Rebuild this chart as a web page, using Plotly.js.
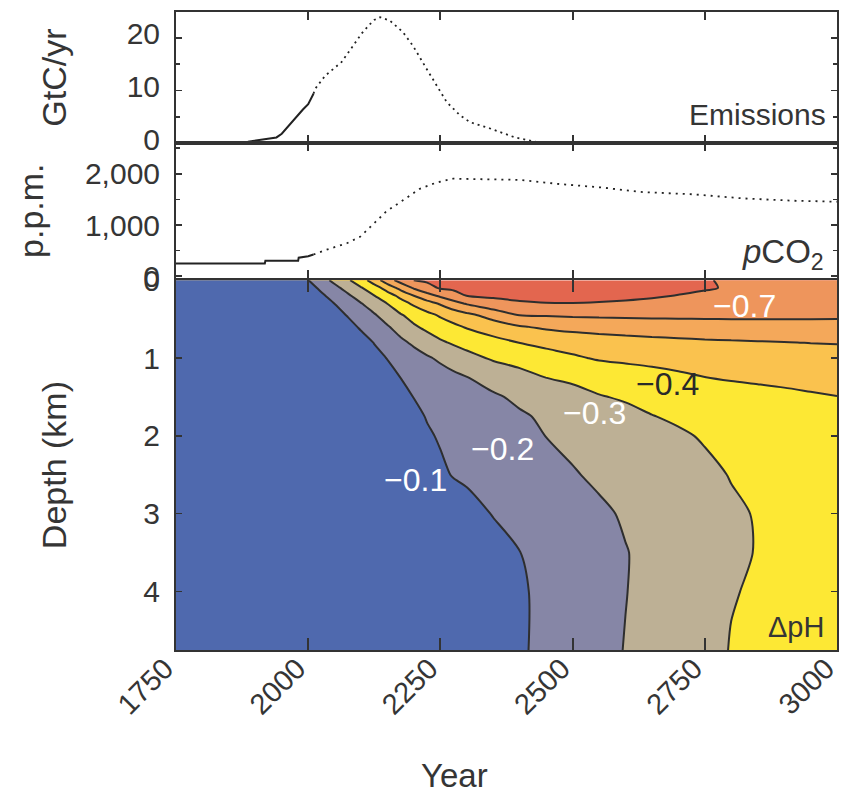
<!DOCTYPE html>
<html>
<head>
<meta charset="utf-8">
<script src="https://cdn.plot.ly/plotly-3.0.1.min.js"></script>
<style>html,body{margin:0;padding:0;background:#fff;}#chart{width:843px;height:796px;}</style>
</head>
<body>
<div id="chart"></div>
<script>
// ---------- Emissions (GtC/yr) ----------
const emisHistYear = [1886, 1900, 1920, 1940, 1950, 1960, 1970, 1980, 1990, 2000, 2010];
const emisHistVal  = [0.3, 0.5, 0.9, 1.1, 1.8, 3.0, 4.2, 5.4, 6.4, 7.4, 9.4];
const emisFutYear  = [2010, 2013, 2032, 2050, 2063, 2085, 2101, 2115, 2125, 2136, 2154, 2179, 2198, 2224, 2243, 2262, 2287, 2306, 2344, 2391, 2438, 2460];
const emisFutVal   = [9.4, 10.3, 12.8, 14.3, 15.4, 18.5, 20.8, 22.4, 23.4, 23.9, 23.3, 21.1, 18.5, 14.1, 11.0, 7.8, 5.3, 4.0, 2.8, 1.1, 0.1, 0];

// ---------- Atmospheric pCO2 (p.p.m.) ----------
const co2HistYear = [1750, 1918, 1919, 1981, 1982, 2000, 2010];
const co2HistVal  = [250, 250, 300, 300, 362, 390, 424];
const co2FutYear  = [2010, 2035, 2073, 2098, 2117, 2148, 2180, 2211, 2243, 2274, 2300, 2400, 2476, 2551, 2633, 2728, 2822, 2917, 3000];
const co2FutVal   = [424, 518, 643, 769, 957, 1268, 1488, 1707, 1831, 1906, 1900, 1882, 1800, 1737, 1643, 1600, 1520, 1475, 1455];

// ---------- Ocean delta pH (rows: depth, columns: year) ----------
const years  = [1750, 1900, 2000, 2025, 2050, 2075, 2100, 2125, 2150, 2175, 2200, 2225, 2250, 2275, 2300, 2350, 2400, 2450, 2500, 2550, 2600, 2650, 2700, 2750, 2800, 2850, 2900, 2950, 3000];
const depths = [0, 0.1, 0.2, 0.3, 0.45, 0.6, 0.8, 1.0, 1.25, 1.5, 1.75, 2.0, 2.5, 3.0, 3.5, 4.0, 4.75];
const dpH = [
  [0, -0.02, -0.098, -0.162, -0.225, -0.288, -0.357, -0.45, -0.56, -0.638, -0.701, -0.715, -0.73, -0.74, -0.745, -0.75, -0.755, -0.755, -0.75, -0.745, -0.74, -0.73, -0.72, -0.705, -0.69, -0.68, -0.67, -0.665, -0.66],
  [0, -0.01, -0.065, -0.118, -0.175, -0.233, -0.293, -0.359, -0.44, -0.533, -0.611, -0.667, -0.71, -0.72, -0.73, -0.74, -0.745, -0.745, -0.745, -0.74, -0.735, -0.725, -0.715, -0.705, -0.695, -0.685, -0.68, -0.675, -0.67],
  [0, -0.005, -0.05, -0.085, -0.135, -0.186, -0.241, -0.298, -0.36, -0.426, -0.501, -0.563, -0.617, -0.658, -0.702, -0.715, -0.72, -0.725, -0.725, -0.72, -0.715, -0.707, -0.698, -0.69, -0.685, -0.68, -0.675, -0.672, -0.67],
  [0, 0, -0.035, -0.06, -0.101, -0.149, -0.196, -0.249, -0.302, -0.362, -0.417, -0.463, -0.511, -0.567, -0.61, -0.665, -0.69, -0.697, -0.698, -0.695, -0.69, -0.685, -0.68, -0.675, -0.67, -0.667, -0.664, -0.662, -0.66],
  [0, 0, -0.02, -0.04, -0.07, -0.105, -0.148, -0.191, -0.241, -0.292, -0.334, -0.374, -0.411, -0.443, -0.475, -0.538, -0.601, -0.607, -0.612, -0.615, -0.617, -0.618, -0.618, -0.618, -0.618, -0.618, -0.617, -0.616, -0.615],
  [0, 0, -0.01, -0.025, -0.045, -0.075, -0.11, -0.151, -0.192, -0.239, -0.288, -0.322, -0.352, -0.381, -0.408, -0.45, -0.492, -0.515, -0.53, -0.54, -0.548, -0.554, -0.558, -0.562, -0.565, -0.567, -0.568, -0.569, -0.57],
  [0, 0, 0, -0.01, -0.025, -0.045, -0.07, -0.103, -0.142, -0.18, -0.217, -0.252, -0.287, -0.312, -0.331, -0.368, -0.402, -0.425, -0.44, -0.452, -0.462, -0.47, -0.478, -0.485, -0.49, -0.494, -0.498, -0.502, -0.505],
  [0, 0, 0, -0.005, -0.015, -0.03, -0.05, -0.075, -0.103, -0.132, -0.16, -0.189, -0.216, -0.244, -0.271, -0.312, -0.337, -0.362, -0.387, -0.41, -0.42, -0.428, -0.436, -0.442, -0.448, -0.452, -0.456, -0.459, -0.462],
  [0, 0, 0, 0, -0.008, -0.018, -0.03, -0.048, -0.07, -0.101, -0.12, -0.139, -0.159, -0.179, -0.198, -0.232, -0.266, -0.301, -0.317, -0.333, -0.35, -0.366, -0.383, -0.399, -0.41, -0.418, -0.425, -0.43, -0.435],
  [0, 0, 0, 0, -0.004, -0.01, -0.02, -0.032, -0.05, -0.075, -0.102, -0.117, -0.131, -0.145, -0.16, -0.189, -0.216, -0.242, -0.268, -0.295, -0.309, -0.32, -0.332, -0.343, -0.355, -0.366, -0.377, -0.389, -0.398],
  [0, 0, 0, 0, 0, -0.005, -0.012, -0.022, -0.035, -0.055, -0.08, -0.105, -0.117, -0.129, -0.141, -0.166, -0.19, -0.212, -0.234, -0.255, -0.277, -0.298, -0.31, -0.32, -0.328, -0.335, -0.342, -0.348, -0.353],
  [0, 0, 0, 0, 0, -0.003, -0.008, -0.015, -0.025, -0.04, -0.06, -0.09, -0.108, -0.12, -0.131, -0.154, -0.177, -0.201, -0.218, -0.236, -0.255, -0.273, -0.291, -0.306, -0.314, -0.32, -0.326, -0.33, -0.334],
  [0, 0, 0, 0, 0, -0.001, -0.004, -0.008, -0.014, -0.022, -0.035, -0.055, -0.085, -0.105, -0.115, -0.135, -0.155, -0.174, -0.194, -0.213, -0.231, -0.249, -0.267, -0.285, -0.303, -0.31, -0.315, -0.319, -0.322],
  [0, 0, 0, 0, 0, 0, -0.002, -0.004, -0.007, -0.011, -0.017, -0.025, -0.036, -0.05, -0.068, -0.104, -0.125, -0.145, -0.166, -0.187, -0.208, -0.228, -0.249, -0.27, -0.29, -0.304, -0.309, -0.313, -0.316],
  [0, 0, 0, 0, 0, 0, -0.001, -0.002, -0.004, -0.006, -0.01, -0.015, -0.022, -0.03, -0.04, -0.065, -0.099, -0.123, -0.148, -0.172, -0.197, -0.219, -0.242, -0.264, -0.287, -0.303, -0.307, -0.31, -0.313],
  [0, 0, 0, 0, 0, 0, -0.001, -0.001, -0.003, -0.005, -0.008, -0.012, -0.017, -0.024, -0.032, -0.05, -0.09, -0.119, -0.145, -0.172, -0.198, -0.223, -0.248, -0.272, -0.297, -0.306, -0.31, -0.313, -0.315],
  [0, 0, 0, 0, 0, 0, -0.001, -0.001, -0.002, -0.004, -0.007, -0.011, -0.016, -0.022, -0.03, -0.048, -0.09, -0.12, -0.147, -0.175, -0.203, -0.228, -0.253, -0.278, -0.303, -0.31, -0.313, -0.315, -0.317]
];

// contour levels and band colours (from the most negative band to the least negative)
const levelStart = -0.7, levelEnd = -0.1, levelStep = 0.1;
const bandColors = ['#e3664f', '#ee955c', '#f4a85a', '#fac24e', '#fde834', '#bdb095', '#8686a6', '#4f69ae'];

// contour labels
const labelText  = ['\u22120.1', '\u22120.2', '\u22120.3', '\u22120.4', '\u22120.7'];
const labelYear  = [2202, 2368, 2542, 2680, 2826];
const labelDepth = [2.57, 2.17, 1.71, 1.34, 0.33];
const labelWhite = [true, true, true, false, true];

const tickYears = [1750, 2000, 2250, 2500, 2750, 3000];

// ---------- build ----------
const nb = bandColors.length;
const colorscale = [];
bandColors.forEach((c, k) => {
  const lo = k === 0 ? 0 : (k - 0.5) / (nb - 1);
  const hi = k === nb - 1 ? 1 : (k + 0.5) / (nb - 1);
  colorscale.push([lo, c]);
  colorscale.push([hi, c]);
});

const FONT = 'Liberation Sans, Arial, Helvetica, sans-serif';
const TXT = '#353535';
const AX = '#333333';

const traces = [
  {x: emisHistYear, y: emisHistVal, xaxis: 'x', yaxis: 'y', mode: 'lines', line: {color: '#222', width: 2}, hoverinfo: 'skip'},
  {x: emisFutYear, y: emisFutVal, xaxis: 'x', yaxis: 'y', mode: 'lines', line: {color: '#222', width: 1.8, dash: '2px,4px'}, hoverinfo: 'skip'},
  {x: co2HistYear, y: co2HistVal, xaxis: 'x2', yaxis: 'y2', mode: 'lines', line: {color: '#222', width: 2}, hoverinfo: 'skip'},
  {x: co2FutYear, y: co2FutVal, xaxis: 'x2', yaxis: 'y2', mode: 'lines', line: {color: '#222', width: 1.8, dash: '2px,5px'}, hoverinfo: 'skip'},
  {type: 'contour', x: years, y: depths, z: dpH, xaxis: 'x3', yaxis: 'y3',
   autocontour: false,
   contours: {start: levelStart, end: levelEnd, size: levelStep, coloring: 'fill', showlines: true},
   line: {color: '#2e2e2e', width: 2, smoothing: 0.8},
   colorscale: colorscale, showscale: false, hoverinfo: 'skip'}
];

const commonX = {
  range: [1750, 3000], tickvals: tickYears, ticks: 'inside', ticklen: 8, tickwidth: 2, tickcolor: AX,
  showline: true, linecolor: AX, linewidth: 2, mirror: 'ticks', showgrid: false, zeroline: false
};
const commonY = {
  ticks: 'inside', ticklen: 6, tickwidth: 1.5, tickcolor: AX, showline: true, linecolor: AX, linewidth: 2,
  mirror: 'ticks', showgrid: false, zeroline: false, ticklabelstandoff: 8,
  tickfont: {family: FONT, size: 30, color: TXT}
};

const annotations = labelText.map((t, i) => ({
  x: labelYear[i], y: labelDepth[i], xref: 'x3', yref: 'y3', text: t, showarrow: false,
  font: {family: FONT, size: 32, color: labelWhite[i] ? '#ffffff' : '#2a2a2a'}
}));
annotations.push(
  {x: 0.986, y: 0.84, xref: 'paper', yref: 'paper', xanchor: 'right', yanchor: 'middle', text: 'Emissions', showarrow: false, font: {family: FONT, size: 30, color: TXT}},
  {x: 0.983, y: 0.62, xref: 'paper', yref: 'paper', xanchor: 'right', yanchor: 'middle', text: '<i>p</i>CO<sub>2</sub>', showarrow: false, font: {family: FONT, size: 33, color: TXT}},
  {x: 0.983, y: 0.036, xref: 'paper', yref: 'paper', xanchor: 'right', yanchor: 'middle', text: '\u0394pH', showarrow: false, font: {family: FONT, size: 29, color: TXT}},
  {x: 0.4206, y: -0.196, xref: 'paper', yref: 'paper', xanchor: 'center', yanchor: 'middle', text: 'Year', showarrow: false, font: {family: FONT, size: 33, color: TXT}}
);

const layout = {
  width: 843, height: 796,
  margin: {l: 176, r: 6, t: 12, b: 146},
  paper_bgcolor: '#ffffff', plot_bgcolor: '#ffffff',
  showlegend: false,
  font: {family: FONT, color: TXT},
  xaxis: Object.assign({}, commonX, {anchor: 'y', showticklabels: false}),
  yaxis: Object.assign({}, commonY, {domain: [0.7943, 1], range: [0, 24.9], tick0: 0, dtick: 10, ticklabelshift: -4,
    minor: {dtick: 5, ticks: 'inside', ticklen: 4, tickcolor: AX, showgrid: false},
    title: {text: 'GtC/yr', standoff: 50, font: {family: FONT, size: 34, color: TXT}}}),
  xaxis2: Object.assign({}, commonX, {anchor: 'y2', showticklabels: false}),
  yaxis2: Object.assign({}, commonY, {domain: [0.5828, 0.7943], range: [-39, 2598], tick0: 0, dtick: 1000, tickformat: ',d',
    minor: {dtick: 500, ticks: 'inside', ticklen: 4, tickcolor: AX, showgrid: false},
    title: {text: 'p.p.m.', standoff: 31, font: {family: FONT, size: 34, color: TXT}}}),
  xaxis3: Object.assign({}, commonX, {anchor: 'y3', showticklabels: true, tickangle: -45,
    ticklabelstandoff: -12, ticklabelshift: -11,
    ticklabeloverflow: 'allow', ticklen: 12,
    tickfont: {family: FONT, size: 29, color: TXT}}),
  yaxis3: Object.assign({}, commonY, {domain: [0, 0.5797], range: [4.75, 0], tick0: 0, dtick: 1,
    title: {text: 'Depth (km)', standoff: 66, font: {family: FONT, size: 34, color: TXT}}}),
  annotations: annotations
};

Plotly.newPlot('chart', traces, layout, {displayModeBar: false, staticPlot: true});
</script>
</body>
</html>
